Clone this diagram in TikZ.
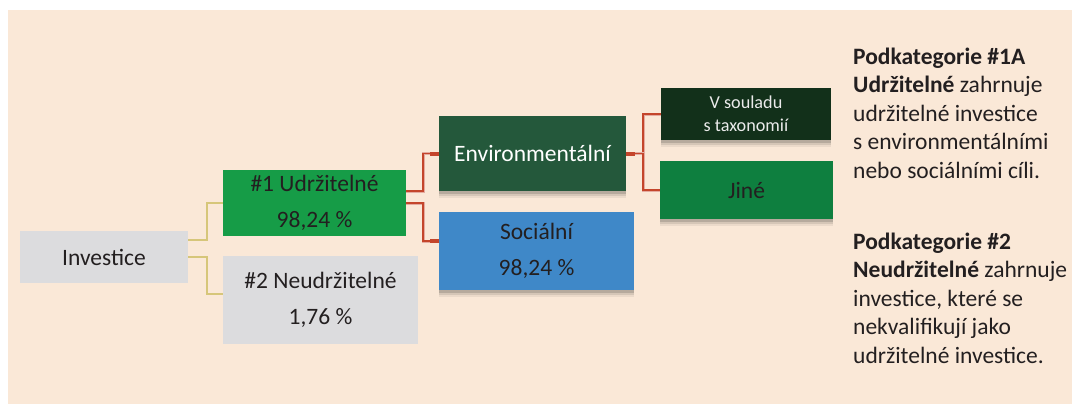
\documentclass[tikz,border=0pt]{standalone}
\usepackage{fontspec}
\setmainfont{Carlito}
\usetikzlibrary{calc,shadows}
\definecolor{bg}{HTML}{FAE8D7}
\definecolor{txt}{HTML}{231F20}
\definecolor{greyb}{HTML}{DCDCDE}
\definecolor{green1}{HTML}{169C47}
\definecolor{envgreen}{HTML}{24583B}
\definecolor{darkgreen}{HTML}{12301A}
\definecolor{jinegreen}{HTML}{0E7F3F}
\definecolor{socblue}{HTML}{3F88C8}
\definecolor{conred}{HTML}{C4452B}
\definecolor{conolive}{HTML}{D6C67A}
\begin{document}
\begin{tikzpicture}[x=1pt,y=-1pt,
  box/.style={rectangle, anchor=north west, inner sep=0pt, outer sep=0pt, align=center, text=txt,
    font=\fontsize{23.5}{36}\selectfont},
  shad/.style={
    drop shadow={shadow xshift=0pt, shadow yshift=-7pt, opacity=0.06, fill=black},
    drop shadow={shadow xshift=0pt, shadow yshift=-5pt, opacity=0.09, fill=black},
    drop shadow={shadow xshift=0pt, shadow yshift=-3pt, opacity=0.14, fill=black}},
  redcon/.style={draw=conred, line width=1.5pt, preaction={draw=conred!45, line width=3pt}},
  stub/.style={draw=conred, line width=4pt},
  olivecon/.style={draw=conolive, line width=1.6pt},
  desc/.style={anchor=base west, align=left, inner sep=0pt, text=txt,
    font=\fontsize{23.5}{28.5}\selectfont}]
\useasboundingbox (0,0) rectangle (1072,405);
\fill[bg] (8,10) rectangle (1072,404);

\node[box, fill=greyb, minimum width=168pt, minimum height=52pt] (inv) at (20,231) {Investice};
\node[box, fill=green1, minimum width=183pt, minimum height=66pt] (u1) at (223,170) {\#1 Udržitelné\\98,24 \%};
\node[box, fill=greyb, minimum width=195pt, minimum height=88pt] (u2) at (223,256) {\#2 Neudržitelné\\1,76 \%};
\node[box, shad, fill=envgreen, text=white, minimum width=187pt, minimum height=75pt] (env) at (439,116) {Environmentální};
\node[box, shad, fill=socblue, minimum width=195pt, minimum height=78pt] (soc) at (439,212) {Sociální\\98,24 \%};
\node[box, shad, fill=darkgreen, text=white!92!black, minimum width=170pt, minimum height=52pt,
  font=\fontsize{18.2}{23}\selectfont] (vs) at (661,88) {V souladu\\s taxonomií};
\node[box, shad, fill=jinegreen, minimum width=173pt, minimum height=58pt] (jine) at (660,161) {Jiné};

% connectors Investice
\draw[olivecon] ($(inv.east)+(0,-17)$) -- ++(19,0) |- (u1.west);
\draw[olivecon] (inv.east) -- ++(19,0) |- ($(u2.west)+(0,-6)$);

% connectors #1
\draw[redcon] ($(u1.east)+(0,-12)$) -- ++(17,0) |- (env.west);
\draw[redcon] (u1.east) -- ++(17,0) |- ($(soc.west)+(0,-10)$);
\draw[stub] (env.west) -- ++(-9,0);
\draw[stub] ($(soc.west)+(0,-10)$) -- ++(-9,0);

% connectors Environmentální
\draw[redcon] (env.east) -- ++(17,0) |- (vs.west);
\draw[redcon] (env.east) -- ++(17,0) |- (jine.west);
\draw[stub] (env.east) -- ++(9,0);
\draw[draw=conred, line width=2.5pt] (vs.west) -- ++(-9,0);
\draw[draw=conred, line width=2.5pt] (jine.west) -- ++(-9,0);

% descriptions (anchored at the baseline of the last line)
\node[desc] (d1) at (853,178) {\textbf{Podkategorie \#1A}\\\textbf{Udržitelné} zahrnuje\\udržitelné investice\\s environmentálními\\nebo sociálními cíli.};
\node[desc] (d2) at (853,363) {\textbf{Podkategorie \#2}\\\textbf{Neudržitelné} zahrnuje\\investice, které se\\nekvalifikují jako\\udržitelné investice.};
\end{tikzpicture}
\end{document}
